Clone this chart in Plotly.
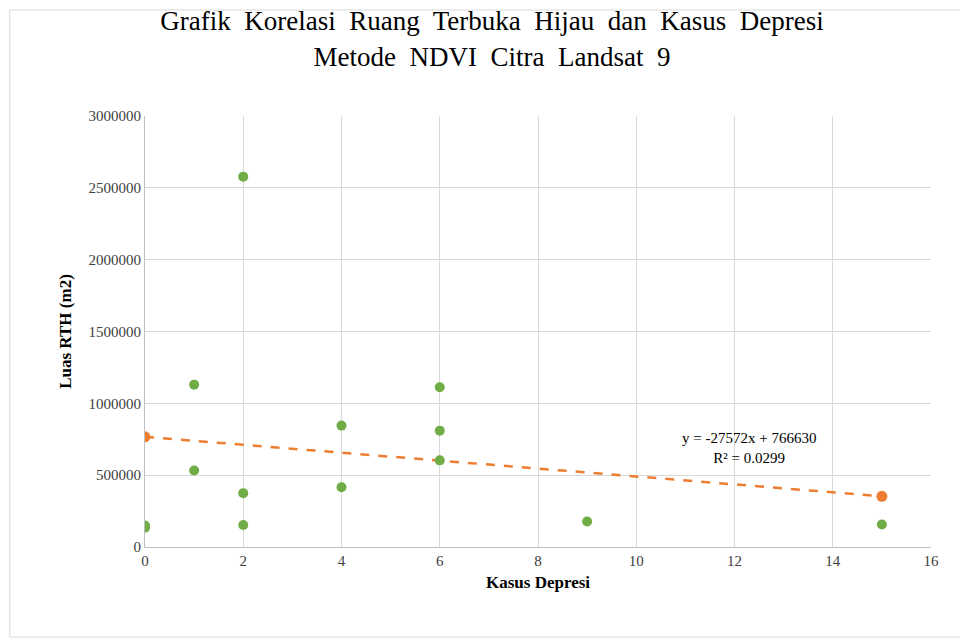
import numpy as np
import plotly.graph_objects as go

kasus = [0, 0, 1, 1, 2, 2, 2, 4, 4, 6, 6, 6, 9, 15]
luas = [150000, 135000, 1130000, 533000, 2578000, 375000, 153000,
        845000, 416000, 1112000, 810000, 603000, 178000, 157000]

slope = -27572
intercept = 766630
trend_x = np.array([0, 15])
trend_y = slope * trend_x + intercept

fig = go.Figure()
fig.add_trace(go.Scatter(
    x=trend_x, y=trend_y, mode="lines",
    line=dict(color="#ED7D31", width=2.5, dash="dash"), showlegend=False))
fig.add_trace(go.Scatter(
    x=trend_x, y=trend_y, mode="markers",
    marker=dict(color="#ED7D31", size=11), showlegend=False))
fig.add_trace(go.Scatter(
    x=kasus, y=luas, mode="markers",
    marker=dict(color="#70AD47", size=10), showlegend=False))

fig.add_annotation(x=12.3, y=690000, xref="x", yref="y", showarrow=False,
                   text="y = -27572x + 766630<br>R² = 0.0299",
                   font=dict(size=15, color="black", family="Liberation Serif"))

fig.update_layout(
    width=968, height=641,
    paper_bgcolor="white", plot_bgcolor="white",
    font=dict(family="Liberation Serif", color="#404040", size=15),
    title=dict(text="Grafik  Korelasi  Ruang  Terbuka  Hijau  dan  Kasus  Depresi<br>Metode  NDVI  Citra  Landsat  9",
               x=0.5, y=0.965, xanchor="center", yanchor="top",
               font=dict(size=27, color="black", family="Liberation Serif")),
    margin=dict(l=137, r=45, t=108, b=102),
    xaxis=dict(range=[0, 16], dtick=2, showgrid=True, gridcolor="#D9D9D9",
               zeroline=False, showline=True, linecolor="#BFBFBF", ticks="",
               title=dict(text="<b>Kasus Depresi</b>",
                          font=dict(size=17, color="black"), standoff=8)),
    yaxis=dict(range=[0, 3000000], dtick=500000, showgrid=True,
               gridcolor="#D9D9D9", zeroline=False, showline=True,
               linecolor="#BFBFBF", ticks="", tickformat="d",
               title=dict(text="<b>Luas RTH (m2)</b>",
                          font=dict(size=17, color="black"), standoff=12)),
    shapes=[dict(type="rect", xref="paper", yref="paper",
                 x0=-0.172, x1=1.042, y0=-0.209, y1=1.246,
                 line=dict(color="#D9D9D9", width=1))],
)

fig.write_html("out.html")
